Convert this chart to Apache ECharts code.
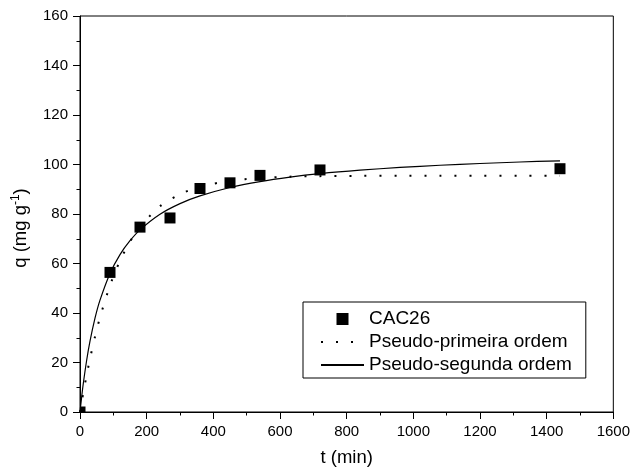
<!DOCTYPE html>
<html>
<head>
<meta charset="utf-8">
<script src="https://cdn.jsdelivr.net/npm/echarts@6/dist/echarts.min.js"></script>
<style>
  html, body { margin: 0; padding: 0; background: #fff; }
  #chart { width: 633px; height: 473px; }
</style>
</head>
<body>
<div id="chart"></div>
<script>
// Kinetic adsorption data for CAC26: time (min) vs uptake q (mg/g)
const expTime = [0, 90, 180, 270, 360, 450, 540, 720, 1440];
const expQ    = [0, 56.4, 74.7, 78.4, 90.3, 92.6, 95.6, 97.8, 98.3];

// Fitted curves, sampled along time
const fitTime = [0, 5, 10, 20, 30, 45, 60, 90, 120, 150, 180, 240, 300, 360, 450, 540, 630, 720, 840, 960, 1080, 1200, 1320, 1440];
const pfoQ    = [0, 4.0, 7.8, 14.9, 21.5, 30.4, 38.2, 51.1, 61.1, 68.8, 74.8, 83.1, 88.0, 91.0, 93.4, 94.5, 95.1, 95.3, 95.4, 95.5, 95.5, 95.5, 95.5, 95.5];
const psoQ    = [0, 6.1, 11.6, 20.9, 28.6, 37.9, 45.2, 56.0, 63.6, 69.2, 73.6, 79.9, 84.2, 87.3, 90.7, 93.1, 94.9, 96.3, 97.7, 98.8, 99.7, 100.4, 101.0, 101.5];

const xTicks = { min: 0, max: 1600, interval: 200 };
const yTicks = { min: 0, max: 160, interval: 20 };

const seriesNames = ['CAC26', 'Pseudo-primeira ordem', 'Pseudo-segunda ordem'];

const pairs = (xs, ys) => xs.map((x, i) => [x, ys[i]]);

const FONT = '"Liberation Sans", Arial, sans-serif';
const MARKER_SIZE = 11;

const chart = echarts.init(document.getElementById('chart'), null, { renderer: 'canvas' });

const axisCommon = {
  axisLine: { show: true, lineStyle: { color: '#000', width: 1 } },
  axisTick: { show: true, inside: false, length: 7, lineStyle: { color: '#000', width: 1 } },
  minorTick: { show: true, splitNumber: 2, length: 3.5, lineStyle: { color: '#000', width: 1 } },
  splitLine: { show: false },
  minorSplitLine: { show: false },
  axisLabel: { color: '#000', fontFamily: FONT, fontSize: 15, margin: 12, formatter: v => String(v) }
};

// hide the marker dot that line series add to their legend icon
const noMarker = { opacity: 0 };

// square markers, cut at the plot frame
function renderSquare(params, api) {
  const p = api.coord([api.value(0), api.value(1)]);
  const cs = params.coordSys;
  const shape = echarts.graphic.clipRectByRect(
    { x: p[0] - MARKER_SIZE / 2, y: p[1] - MARKER_SIZE / 2, width: MARKER_SIZE, height: MARKER_SIZE },
    { x: cs.x, y: cs.y, width: cs.width, height: cs.height }
  );
  return shape && { type: 'rect', shape: shape, style: { fill: '#000' } };
}

chart.setOption({
  animation: false,
  backgroundColor: '#fff',
  grid: {
    left: 80, right: 18, top: 16, bottom: 61,
    show: true, borderColor: '#000', borderWidth: 1, backgroundColor: 'transparent'
  },
  xAxis: Object.assign({}, axisCommon, {
    type: 'value',
    min: xTicks.min, max: xTicks.max, interval: xTicks.interval,
    name: 't (min)',
    nameLocation: 'middle',
    nameGap: 36,
    nameTextStyle: { color: '#000', fontFamily: FONT, fontSize: 18.5 }
  }),
  yAxis: Object.assign({}, axisCommon, {
    type: 'value',
    min: yTicks.min, max: yTicks.max, interval: yTicks.interval,
    name: 'q (mg g{sup|-1})',
    nameLocation: 'middle',
    nameGap: 34,
    nameTextStyle: {
      color: '#000', fontFamily: FONT, fontSize: 18.5, lineHeight: 22,
      padding: [0, 28, 0, 0],
      rich: {
        sup: { fontFamily: FONT, fontSize: 12, color: '#000', verticalAlign: 'top', lineHeight: 22 }
      }
    }
  }),
  legend: {
    orient: 'vertical',
    left: 303,
    top: 302,
    align: 'left',
    padding: [7, 14, 3, 17],
    itemGap: 3,
    itemWidth: 43,
    itemHeight: 12,
    symbolKeepAspect: true,
    borderColor: '#000',
    borderWidth: 1,
    backgroundColor: '#fff',
    textStyle: { color: '#000', fontFamily: FONT, fontSize: 19, lineHeight: 20 },
    data: [
      { name: seriesNames[0], icon: 'path://M0,0L10,0L10,10L0,10Z', itemStyle: { color: '#000' } },
      { name: seriesNames[1], itemStyle: noMarker },
      { name: seriesNames[2], itemStyle: noMarker }
    ]
  },
  series: [
    {
      name: seriesNames[1],
      type: 'line',
      data: pairs(fitTime, pfoQ),
      smooth: 0.3,
      symbol: 'none',
      showSymbol: false,
      clip: true,
      lineStyle: { color: '#000', width: 2, type: [2, 13], cap: 'butt' },
      itemStyle: { color: '#000' },
      z: 2
    },
    {
      name: seriesNames[2],
      type: 'line',
      data: pairs(fitTime, psoQ),
      smooth: 0.3,
      symbol: 'none',
      showSymbol: false,
      clip: true,
      lineStyle: { color: '#000', width: 1.2, type: 'solid' },
      itemStyle: { color: '#000' },
      z: 3
    },
    {
      name: seriesNames[0],
      type: 'custom',
      data: pairs(expTime, expQ),
      encode: { x: 0, y: 1 },
      renderItem: renderSquare,
      itemStyle: { color: '#000' },
      z: 4
    }
  ]
});
</script>
</body>
</html>
